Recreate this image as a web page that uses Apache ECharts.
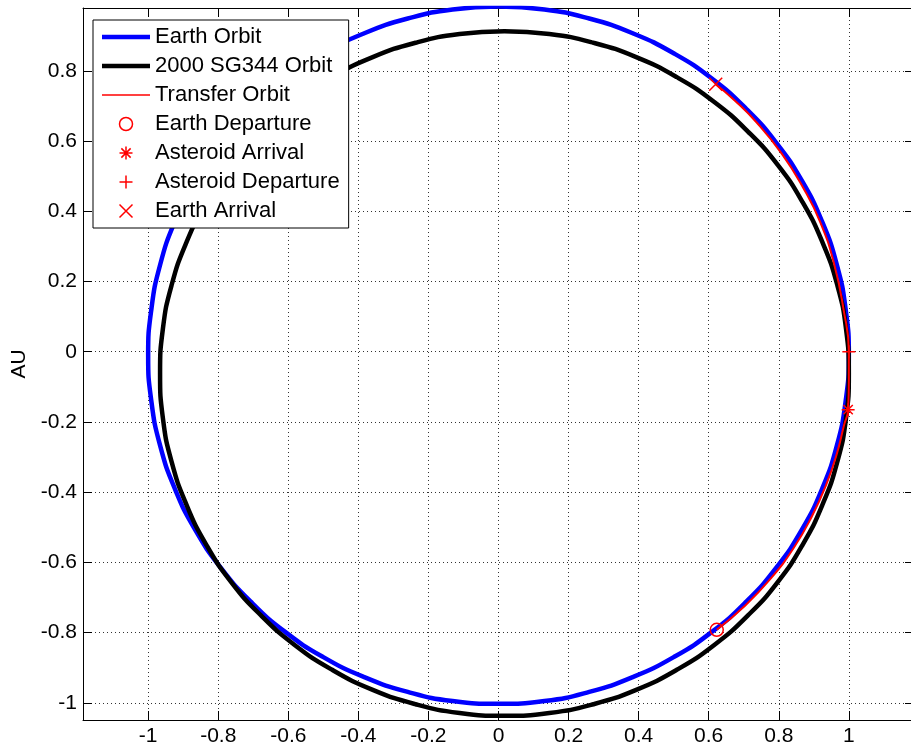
<!DOCTYPE html>
<html>
<head>
<meta charset="utf-8">
<script src="https://cdn.jsdelivr.net/npm/echarts@6/dist/echarts.min.js"></script>
<style>
  html, body { margin: 0; padding: 0; background: #fff; }
  #main { width: 911px; height: 751px; }
</style>
</head>
<body>
<div id="main"></div>
<script>
// 轴刻度
const xTicks = [-1, -0.8, -0.6, -0.4, -0.2, 0, 0.2, 0.4, 0.6, 0.8, 1]
const yTicks = [-1, -0.8, -0.6, -0.4, -0.2, 0, 0.2, 0.4, 0.6, 0.8]

// 地球轨道（读图估计，从顶部逆时针）
const earthX = [
  0.000, -0.131, -0.259, -0.383, -0.500, -0.609, -0.707, -0.793, -0.866, -0.924, -0.966, -0.991,
  -1.000, -0.991, -0.966, -0.924, -0.866, -0.793, -0.707, -0.609, -0.500, -0.383, -0.259, -0.131,
  0.000, 0.131, 0.259, 0.383, 0.500, 0.609, 0.707, 0.793, 0.866, 0.924, 0.966, 0.991,
  1.000, 0.991, 0.966, 0.924, 0.866, 0.793, 0.707, 0.609, 0.500, 0.383, 0.259, 0.131, 0.000]
const earthY = [
  0.983, 0.975, 0.949, 0.907, 0.850, 0.778, 0.692, 0.595, 0.487, 0.370, 0.247, 0.120,
  -0.010, -0.140, -0.267, -0.390, -0.507, -0.615, -0.712, -0.798, -0.870, -0.927, -0.969, -0.995,
  -1.003, -0.995, -0.969, -0.927, -0.870, -0.798, -0.712, -0.615, -0.507, -0.390, -0.267, -0.140,
  -0.010, 0.120, 0.247, 0.370, 0.487, 0.595, 0.692, 0.778, 0.850, 0.907, 0.949, 0.975, 0.983]

// 2000 SG344 轨道
const astX = [
  0.017, -0.111, -0.237, -0.359, -0.475, -0.581, -0.678, -0.763, -0.834, -0.891, -0.933, -0.958,
  -0.966, -0.958, -0.933, -0.891, -0.834, -0.763, -0.678, -0.581, -0.475, -0.359, -0.237, -0.111,
  0.017, 0.145, 0.271, 0.393, 0.509, 0.615, 0.712, 0.797, 0.868, 0.925, 0.967, 0.992,
  1.000, 0.992, 0.967, 0.925, 0.868, 0.797, 0.712, 0.615, 0.509, 0.393, 0.271, 0.145, 0.017]
const astY = [
  0.913, 0.905, 0.880, 0.839, 0.782, 0.712, 0.627, 0.532, 0.426, 0.311, 0.190, 0.065,
  -0.062, -0.189, -0.314, -0.435, -0.550, -0.656, -0.751, -0.836, -0.906, -0.963, -1.004, -1.029,
  -1.037, -1.029, -1.004, -0.963, -0.906, -0.836, -0.751, -0.656, -0.550, -0.435, -0.314, -0.189,
  -0.062, 0.065, 0.190, 0.311, 0.426, 0.532, 0.627, 0.712, 0.782, 0.839, 0.880, 0.905, 0.913]

// 转移轨道
const transferX = [0.623, 0.702, 0.778, 0.842, 0.894, 0.935, 0.966, 0.986, 0.998, 1.000, 1.000,
  0.985, 0.958, 0.918, 0.868, 0.808, 0.735, 0.675, 0.620]
const transferY = [-0.792, -0.725, -0.645, -0.560, -0.470, -0.380, -0.290, -0.210, -0.165, -0.080, 0.000,
  0.120, 0.250, 0.370, 0.470, 0.565, 0.655, 0.715, 0.762]

// 关键点
const earthDeparture = [0.623, -0.792]
const asteroidArrival = [0.998, -0.165]
const asteroidDeparture = [1.000, 0.000]
const earthArrival = [0.620, 0.762]

const xMin = -1.186, xMax = 1.186
const yMin = -1.049, yMax = 0.979

const font = '"Liberation Sans", Arial, Helvetica, sans-serif'

const zip = (xs, ys) => xs.map((x, i) => [x, ys[i]])

// 图例里的线条图标：48x13 的框，中间一条横带
const lineIcon = (w) => {
  const a = (13 - w) / 2, b = a + w
  return 'path://M0,0L0,0M0,' + a + 'L48,' + a + 'L48,' + b + 'L0,' + b + 'ZM48,13L48,13'
}

const circlePath = 'path://M7,0A7,7 0 1 1 7,14A7,7 0 1 1 7,0Z'
const starPath = 'path://M7,0L7,14M0,7L14,7M2,2L12,12M2,12L12,2'
const plusPath = 'path://M7,0L7,14M0,7L14,7'
const crossPath = 'path://M0,0L14,14M0,14L14,0'

const markerSeries = (name, symbol, point) => ({
  name: name,
  type: 'scatter',
  symbol: symbol,
  symbolSize: 13,
  silent: true,
  itemStyle: { color: 'rgba(0,0,0,0)', borderColor: '#ff0000', borderWidth: 1.5, opacity: 1 },
  data: [point],
  z: 5
})

const lineSeries = (name, data, color, width) => ({
  name: name,
  type: 'line',
  data: data,
  symbol: 'none',
  smooth: true,
  silent: true,
  color: color,
  lineStyle: { color: color, width: width, join: 'round' },
  itemStyle: { color: color },
  emphasis: { disabled: true }
})

const chart = echarts.init(document.getElementById('main'))

const tickStyle = { inside: true, length: 9, lineStyle: { color: '#000', width: 1 } }
const gridLine = { show: true, lineStyle: { color: '#333', width: 1, type: [1, 3] } }

const option = {
  animation: false,
  backgroundColor: '#fff',
  grid: { left: 83, top: 8, width: 831, height: 712, outerBoundsMode: 'none', containLabel: false },
  xAxis: [
    {
      type: 'value', min: xMin, max: xMax, position: 'bottom',
      axisLine: { show: true, onZero: false, lineStyle: { color: '#000', width: 1 } },
      axisTick: Object.assign({ customValues: xTicks }, tickStyle),
      axisLabel: { customValues: xTicks, color: '#000', fontSize: 21, fontFamily: font, margin: 6 },
      splitLine: gridLine
    },
    {
      type: 'value', min: xMin, max: xMax, position: 'top',
      axisLine: { show: true, onZero: false, lineStyle: { color: '#000', width: 1 } },
      axisTick: Object.assign({ customValues: xTicks }, tickStyle),
      axisLabel: { show: false },
      splitLine: { show: false }
    }
  ],
  yAxis: [
    {
      type: 'value', min: yMin, max: yMax, position: 'left',
      name: 'AU', nameLocation: 'middle', nameGap: 51, nameRotate: 90,
      nameTextStyle: { color: '#000', fontSize: 21, fontFamily: font },
      axisLine: { show: true, onZero: false, lineStyle: { color: '#000', width: 1 } },
      axisTick: Object.assign({ customValues: yTicks }, tickStyle),
      axisLabel: { customValues: yTicks, color: '#000', fontSize: 21, fontFamily: font, margin: 6 },
      splitLine: gridLine
    },
    {
      type: 'value', min: yMin, max: yMax, position: 'right',
      axisLine: { show: true, onZero: false, lineStyle: { color: '#000', width: 1 } },
      axisTick: Object.assign({ customValues: yTicks }, tickStyle),
      axisLabel: { show: false },
      splitLine: { show: false }
    }
  ],
  legend: {
    orient: 'vertical',
    left: 93,
    top: 20,
    padding: [6, 9, 6, 9],
    itemWidth: 48,
    itemHeight: 13,
    itemGap: 7,
    selectedMode: false,
    backgroundColor: '#fff',
    borderColor: '#000',
    borderWidth: 1,
    borderRadius: 0,
    textStyle: { color: '#000', fontSize: 22, fontFamily: font },
    data: [
      { name: 'Earth Orbit', icon: lineIcon(4.5), itemStyle: { color: '#0000ff', borderWidth: 0 } },
      { name: '2000 SG344 Orbit', icon: lineIcon(4.5), itemStyle: { color: '#000000', borderWidth: 0 } },
      { name: 'Transfer Orbit', icon: lineIcon(1.5), itemStyle: { color: '#ff0000', borderWidth: 0 } },
      { name: 'Earth Departure', itemStyle: { borderWidth: 1.5 } },
      { name: 'Asteroid Arrival', itemStyle: { borderWidth: 1.5 } },
      { name: 'Asteroid Departure', itemStyle: { borderWidth: 1.5 } },
      { name: 'Earth Arrival', itemStyle: { borderWidth: 1.5 } }
    ]
  },
  series: [
    lineSeries('Earth Orbit', zip(earthX, earthY), '#0000ff', 4.5),
    lineSeries('2000 SG344 Orbit', zip(astX, astY), '#000000', 4.5),
    lineSeries('Transfer Orbit', zip(transferX, transferY), '#ff0000', 2),
    markerSeries('Earth Departure', circlePath, earthDeparture),
    markerSeries('Asteroid Arrival', starPath, asteroidArrival),
    markerSeries('Asteroid Departure', plusPath, asteroidDeparture),
    markerSeries('Earth Arrival', crossPath, earthArrival)
  ]
}

chart.setOption(option)
</script>
</body>
</html>
